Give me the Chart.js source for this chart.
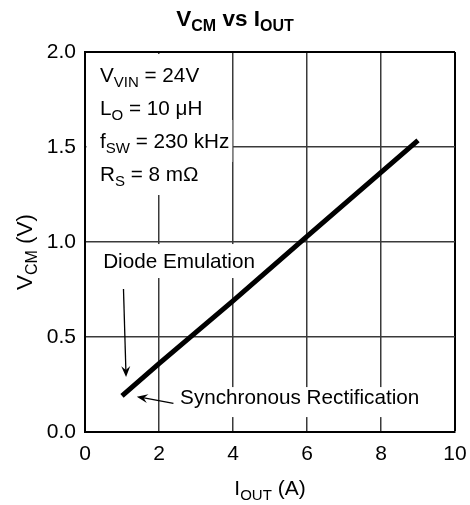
<!DOCTYPE html>
<html>
<head>
<meta charset="utf-8">
<script src="https://cdn.jsdelivr.net/npm/chart.js@4.4.1/dist/chart.umd.min.js"></script>
<style>
html,body{margin:0;padding:0;background:#fff;}
canvas{display:block;}
</style>
</head>
<body>
<canvas id="c" width="470" height="505"></canvas>
<script>
// ---- data ----
const iout = [1, 2, 4, 6, 9];
const vcm = [0.19, 0.36, 0.69, 1.03, 1.535];
const xTicks = [0, 2, 4, 6, 8, 10];
const yTicks = [0.0, 0.5, 1.0, 1.5, 2.0];

const FONT = '"Liberation Sans", Arial, Helvetica, sans-serif';

// annotation text (rich parts: [text, isSub])
const notes = [
  {parts: [['V'], ['VIN', 1], [' = 24V']], x: 0.405, y: 1.842, pad: [28, 14], full: true},
  {parts: [['L'], ['O', 1], [' = 10 μH']], x: 0.405, y: 1.668, pad: [28, 14], full: true},
  {parts: [['f'], ['SW', 1], [' = 230 kHz']], x: 0.405, y: 1.495, pad: [28, 14], full: true},
  {parts: [['R'], ['S', 1], [' = 8 mΩ']], x: 0.405, y: 1.321, pad: [28, 14], full: true},
  {parts: [['Diode Emulation']], x: 0.49, y: 0.863, pad: [24, 10], full: false},
  {parts: [['Synchronous Rectification']], x: 2.57, y: 0.147, pad: [17, 13], full: false}
];
const arrows = [
  {from: [1.04, 0.753], to: [1.11, 0.289]},
  {from: [2.39, 0.151], to: [1.40, 0.186]}
];

function richWidth(ctx, parts, size, subSize, weight) {
  let w = 0;
  for (const p of parts) {
    ctx.font = (weight || '') + ' ' + (p[1] ? subSize : size) + 'px ' + FONT;
    w += ctx.measureText(p[0]).width;
  }
  return w;
}
function drawRich(ctx, parts, x, y, size, subSize, subOff, weight) {
  let cx = x;
  for (const p of parts) {
    ctx.font = (weight || '') + ' ' + (p[1] ? subSize : size) + 'px ' + FONT;
    ctx.fillText(p[0], cx, p[1] ? y + subOff : y);
    cx += ctx.measureText(p[0]).width;
  }
}

const decor = {
  id: 'decor',
  beforeDatasetsDraw(chart) {
    const ctx = chart.ctx, xs = chart.scales.x, ys = chart.scales.y, ca = chart.chartArea;
    ctx.save();
    ctx.textAlign = 'left';
    ctx.textBaseline = 'alphabetic';
    for (const n of notes) {
      const px = xs.getPixelForValue(n.x), py = ys.getPixelForValue(n.y);
      const w = richWidth(ctx, n.parts, 20.7, 15);
      ctx.fillStyle = '#fff';
      const left = n.full ? ca.left + 1.5 : px - 3;
      ctx.fillRect(left, py - n.pad[0], px + w + 3 - left, n.pad[0] + n.pad[1]);
      ctx.fillStyle = '#000';
      drawRich(ctx, n.parts, px, py, 20.7, 15, 5);
    }
    // arrows
    ctx.strokeStyle = '#000';
    ctx.fillStyle = '#000';
    ctx.lineWidth = 1.3;
    for (const a of arrows) {
      const x1 = xs.getPixelForValue(a.from[0]), y1 = ys.getPixelForValue(a.from[1]);
      const x2 = xs.getPixelForValue(a.to[0]), y2 = ys.getPixelForValue(a.to[1]);
      const ang = Math.atan2(y2 - y1, x2 - x1);
      const L = 11, W = 4.5;
      ctx.beginPath();
      ctx.moveTo(x1, y1);
      ctx.lineTo(x2 - Math.cos(ang) * 6, y2 - Math.sin(ang) * 6);
      ctx.stroke();
      ctx.beginPath();
      ctx.moveTo(x2, y2);
      ctx.lineTo(x2 - Math.cos(ang) * L + Math.sin(ang) * W, y2 - Math.sin(ang) * L - Math.cos(ang) * W);
      ctx.lineTo(x2 - Math.cos(ang) * (L - 4), y2 - Math.sin(ang) * (L - 4));
      ctx.lineTo(x2 - Math.cos(ang) * L - Math.sin(ang) * W, y2 - Math.sin(ang) * L + Math.cos(ang) * W);
      ctx.closePath();
      ctx.fill();
    }
    ctx.restore();
  },
  afterDraw(chart) {
    const ctx = chart.ctx, ca = chart.chartArea;
    ctx.save();
    ctx.fillStyle = '#000';
    ctx.textBaseline = 'alphabetic';
    ctx.textAlign = 'left';
    // title
    const tParts = [['V'], ['CM', 1], [' vs I'], ['OUT', 1]];
    const tw = richWidth(ctx, tParts, 22.5, 16, 'bold');
    drawRich(ctx, tParts, chart.width / 2 - tw / 2, 26, 22.5, 16, 5, 'bold');
    // x title
    const xParts = [['I'], ['OUT', 1], [' (A)']];
    const xw = richWidth(ctx, xParts, 21, 15);
    drawRich(ctx, xParts, (ca.left + ca.right) / 2 - xw / 2, 495, 21, 15, 5);
    // y title
    const yParts = [['V'], ['CM', 1], [' (V)']];
    const yw = richWidth(ctx, yParts, 22.5, 16);
    ctx.translate(32, (ca.top + ca.bottom) / 2 + 10);
    ctx.rotate(-Math.PI / 2);
    drawRich(ctx, yParts, -yw / 2, 0, 22.5, 16, 5);
    ctx.restore();
  }
};

const gridColor = (c) => (c.tick && (c.tick.value === c.scale.max) ? '#000' : '#3a3a3a');
const gridWidth = (c) => (c.tick && (c.tick.value === c.scale.max) ? 2 : 1.5);

new Chart(document.getElementById('c'), {
  type: 'scatter',
  data: {
    datasets: [{
      data: iout.map((v, i) => ({x: v, y: vcm[i]})),
      showLine: true,
      borderColor: '#000',
      borderWidth: 5,
      pointRadius: 0,
      borderCapStyle: 'butt',
      fill: false
    }]
  },
  options: {
    responsive: false,
    animation: false,
    layout: {padding: {top: 52, right: 15, left: 0, bottom: 0}},
    plugins: {legend: {display: false}, title: {display: false}, tooltip: {enabled: false}},
    scales: {
      x: {
        type: 'linear', min: 0, max: 10,
        afterBuildTicks: (s) => { s.ticks = xTicks.map(v => ({value: v})); },
        afterFit: (s) => { s.height = 73; s.paddingLeft = 0; s.paddingRight = 0; },
        grid: {color: gridColor, lineWidth: gridWidth, drawTicks: false},
        border: {color: '#000', width: 2},
        ticks: {color: '#000', padding: 10, font: {family: FONT, size: 21}, callback: (v) => String(v)}
      },
      y: {
        type: 'linear', min: 0, max: 2,
        afterBuildTicks: (s) => { s.ticks = yTicks.map(v => ({value: v})); },
        afterFit: (s) => { s.width = 85; s.paddingTop = 0; s.paddingBottom = 0; },
        grid: {color: gridColor, lineWidth: gridWidth, drawTicks: false},
        border: {color: '#000', width: 2},
        ticks: {color: '#000', padding: 9, font: {family: FONT, size: 21}, callback: (v) => Number(v).toFixed(1)}
      }
    }
  },
  plugins: [decor]
});
</script>
</body>
</html>
